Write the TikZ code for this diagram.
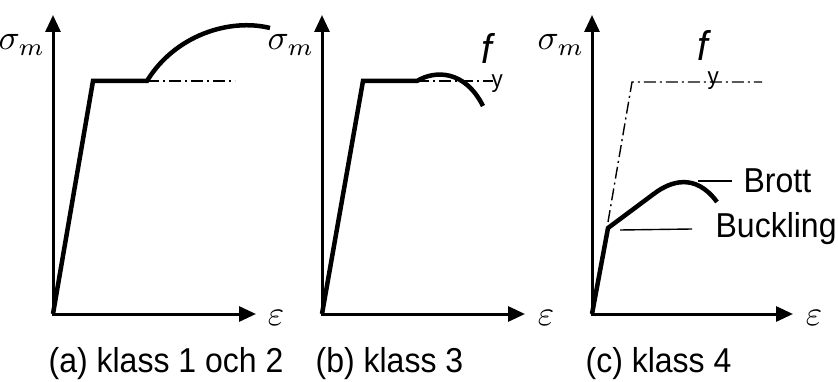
\documentclass[tikz,border=0pt]{standalone}
\usepackage{fontspec}
\setmainfont{Liberation Sans}
\usetikzlibrary{arrows.meta, positioning, calc}

\begin{document}
\begin{tikzpicture}[x=1pt, y=-1pt,
  axis/.style={line width=3pt, line cap=rect, -{Triangle[length=17pt, width=15pt]}},
  curve/.style={line width=4.5pt},
  yieldline/.style={line width=1.4pt, dash pattern=on 12pt off 4pt on 2pt off 4pt},
  leader/.style={line width=1.4pt},
  lbl/.style={scale=3.2, yscale=1.08, inner sep=0pt},
  sym/.style={scale=3.5, inner sep=0pt}]
  \useasboundingbox (0,0) rectangle (838,382);
  % (a) klass 1 och 2
  \coordinate (Oa) at (53,314);
  \coordinate (Ya) at (53,15);
  \coordinate (Xa) at (256,314);
  \draw[axis] (Oa) -- (Ya);
  \draw[axis] (Oa) -- (Xa);
  \node[sym, anchor=east] (sigA) at (46,45) {$\sigma_m$};
  \node[sym] (epsA) at (276,318) {$\varepsilon$};
  \coordinate (Fa) at (93,81);
  \coordinate (Pa) at (147,81);
  \draw[curve] (Oa) -- (Fa) -- (Pa) .. controls (175,35) and (230,18) .. (270,28);
  \draw[yieldline] (Pa) -- (235,81);
  \node[lbl, anchor=west] (capA) at (48,364) {(a) klass 1 och 2};
  % (b) klass 3
  \coordinate (Ob) at (322,314);
  \coordinate (Yb) at (322,15);
  \coordinate (Xb) at (525,314);
  \draw[axis] (Ob) -- (Yb);
  \draw[axis] (Ob) -- (Xb);
  \node[sym, anchor=east] (sigB) at (315,45) {$\sigma_m$};
  \node[sym] (epsB) at (546,318) {$\varepsilon$};
  \coordinate (Fb) at (363,81);
  \coordinate (Pb) at (417,81);
  \draw[curve] (Ob) -- (Fb) -- (Pb) .. controls (435,70) and (465,70) .. (483,106);
  \draw[yieldline] (Pb) -- (493,81);
  \node[lbl] (fyB) at (492,63) {\itshape\large f\raisebox{-1.1ex}{\upshape\scriptsize y}};
  \node[lbl, anchor=west] (capB) at (315,364) {(b) klass 3};
  % (c) klass 4
  \coordinate (Oc) at (592,314);
  \coordinate (Yc) at (592,15);
  \coordinate (Xc) at (793,314);
  \draw[axis] (Oc) -- (Yc);
  \draw[axis] (Oc) -- (Xc);
  \node[sym, anchor=east] (sigC) at (585,45) {$\sigma_m$};
  \node[sym] (epsC) at (814,318) {$\varepsilon$};
  \coordinate (Kc) at (608,228);
  \coordinate (Tc) at (682,181);
  \draw[yieldline] (608,222) -- (632,82) -- (762,82);
  \draw[curve] (Oc) -- (Kc) -- (655,193) .. controls (670,182) and (695,172) .. (717,202);
  \node[lbl] (fyC) at (708,60) {\itshape\large f\raisebox{-1.1ex}{\upshape\scriptsize y}};
  \node[lbl, anchor=west] (brott) at (743,181) {Brott};
  \node[lbl, anchor=west] (buck) at (715,229) {Buckling};
  \draw[leader] (698,181) -- ([xshift=-11pt]brott.west);
  \draw[leader] (620,230) -- ([xshift=-23pt]buck.west);
  \node[lbl, anchor=west] (capC) at (585,364) {(c) klass 4};
\end{tikzpicture}
\end{document}
